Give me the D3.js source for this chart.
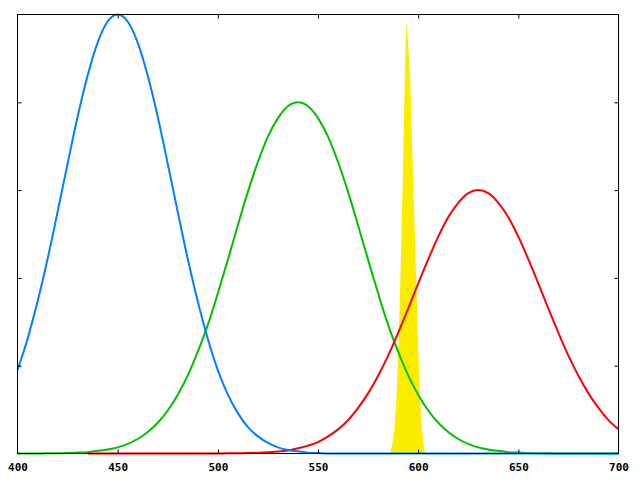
<!DOCTYPE html>
<html>
<head>
<meta charset="utf-8">
<script src="https://cdn.jsdelivr.net/npm/d3@7"></script>
<style>
  body { margin: 0; background: #fff; }
  .tick text { font-family: "DejaVu Sans Mono", monospace; font-weight: bold; font-size: 11px; fill: #000; }
</style>
</head>
<body>
<div id="chart"></div>
<script>
// Cone response curves + narrow yellow source

// wavelengths (nm), every 5 nm
var wavelengths = [400, 405, 410, 415, 420, 425, 430, 435, 440, 445,
  450, 455, 460, 465, 470, 475, 480, 485, 490, 495,
  500, 505, 510, 515, 520, 525, 530, 535, 540, 545,
  550, 555, 560, 565, 570, 575, 580, 585, 590, 595,
  600, 605, 610, 615, 620, 625, 630, 635, 640, 645,
  650, 655, 660, 665, 670, 675, 680, 685, 690, 695, 700];

var blueValues = [0.19, 0.261, 0.346, 0.443, 0.55, 0.66, 0.767, 0.861, 0.936, 0.984,
  1.0, 0.984, 0.936, 0.861, 0.767, 0.66, 0.55, 0.443, 0.346, 0.261,
  0.19, 0.134, 0.092, 0.06, 0.039, 0.024, 0.014, 0.008, 0.005, 0.002,
  0.001, 0, 0, 0, 0, 0, 0, 0, 0, 0,
  0, 0, 0, 0, 0, 0, 0, 0, 0, 0,
  0, 0, 0, 0, 0, 0, 0, 0, 0, 0, 0];

var greenValues = [0, 0.0001, 0.0002, 0.0003, 0.0006, 0.001, 0.002, 0.003, 0.006, 0.009,
  0.014, 0.022, 0.033, 0.049, 0.07, 0.098, 0.134, 0.178, 0.232, 0.293,
  0.365, 0.441, 0.52, 0.596, 0.664, 0.722, 0.764, 0.791, 0.8, 0.791,
  0.764, 0.722, 0.664, 0.596, 0.52, 0.441, 0.365, 0.293, 0.232, 0.178,
  0.134, 0.098, 0.07, 0.049, 0.033, 0.022, 0.014, 0.009, 0.006, 0.003,
  0.002, 0.001, 0.0006, 0.0003, 0.0002, 0.0001, 0, 0, 0, 0, 0];

// red curve only starts at 435 nm
var redValues = [null, null, null, null, null, null, null, 0, 0, 0,
  0, 0, 0, 0, 0, 0, 0, 0, 0, 0.0001,
  0.0002, 0.0003, 0.0005, 0.0009, 0.0016, 0.0028, 0.0046, 0.007, 0.012, 0.018,
  0.026, 0.039, 0.055, 0.076, 0.104, 0.137, 0.177, 0.223, 0.275, 0.33,
  0.387, 0.442, 0.494, 0.538, 0.571, 0.593, 0.6, 0.593, 0.571, 0.538,
  0.494, 0.442, 0.387, 0.33, 0.275, 0.223, 0.177, 0.137, 0.104, 0.076, 0.055];

// narrow yellow spike, every 1 nm
var yellowNm = [586, 587, 588, 589, 590, 591, 592, 593, 594, 595,
  596, 597, 598, 599, 600, 601, 602, 603, 604];
var yellowValues = [0, 0.02, 0.05, 0.11, 0.22, 0.37, 0.56, 0.78, 0.985, 0.93,
  0.86, 0.7, 0.55, 0.4, 0.24, 0.12, 0.05, 0.01, 0];

var xTicks = [400, 450, 500, 550, 600, 650, 700];
var yTicks = [0.2, 0.4, 0.6, 0.8];

var svgWidth = 640;
var svgHeight = 480;

var svg = d3.select("#chart")
  .append("svg")
  .attr("width", svgWidth)
  .attr("height", svgHeight)
  .style("display", "block");

svg.append("rect")
  .attr("width", svgWidth)
  .attr("height", svgHeight)
  .attr("fill", "#fff");

var x = d3.scaleLinear().domain([400, 700]).range([17.5, 618.5]);
var y = d3.scaleLinear().domain([0, 1]).range([453.5, 14.5]);

// yellow area first, lines go over it
var area = d3.area()
  .x(function(d, i) { return x(yellowNm[i]); })
  .y0(y(0))
  .y1(function(d) { return y(d); });

svg.append("path")
  .datum(yellowValues)
  .attr("d", area)
  .attr("fill", "#fbec00");

var line = d3.line()
  .defined(function(d) { return d != null; })
  .x(function(d, i) { return x(wavelengths[i]); })
  .y(function(d) { return y(d); })
  .curve(d3.curveMonotoneX);

var series = [
  { values: greenValues, color: "#00c000" },
  { values: redValues, color: "#ff0000" },
  { values: blueValues, color: "#0080ff" }
];

series.forEach(function(s) {
  svg.append("path")
    .datum(s.values)
    .attr("d", line)
    .attr("fill", "none")
    .attr("stroke", s.color)
    .attr("stroke-width", 2);
});

// frame
svg.append("rect")
  .attr("x", x.range()[0])
  .attr("y", y.range()[1])
  .attr("width", x.range()[1] - x.range()[0])
  .attr("height", y.range()[0] - y.range()[1])
  .attr("fill", "none")
  .attr("stroke", "#000")
  .attr("stroke-width", 1);

// ticks, all pointing inwards
var bottomAxis = d3.axisBottom(x).tickValues(xTicks).tickSize(-4).tickPadding(10).tickFormat(d3.format("d"));
var topAxis = d3.axisTop(x).tickValues(xTicks.slice(1, -1)).tickSize(-4).tickFormat("");
var leftAxis = d3.axisLeft(y).tickValues(yTicks).tickSize(-4).tickFormat("");
var rightAxis = d3.axisRight(y).tickValues(yTicks).tickSize(-4).tickFormat("");

function drawAxis(axis, tx, ty) {
  var g = svg.append("g")
    .attr("transform", "translate(" + tx + "," + ty + ")")
    .call(axis);
  g.select(".domain").remove();
  g.selectAll(".tick line").attr("stroke", "#000");
  return g;
}

var bottomG = drawAxis(bottomAxis, 0, y.range()[0]);
bottomG.selectAll(".tick").filter(function(d) { return d == 400 || d == 700; }).select("line").remove();
drawAxis(topAxis, 0, y.range()[1]);
drawAxis(leftAxis, x.range()[0], 0);
drawAxis(rightAxis, x.range()[1], 0);
</script>
</body>
</html>
